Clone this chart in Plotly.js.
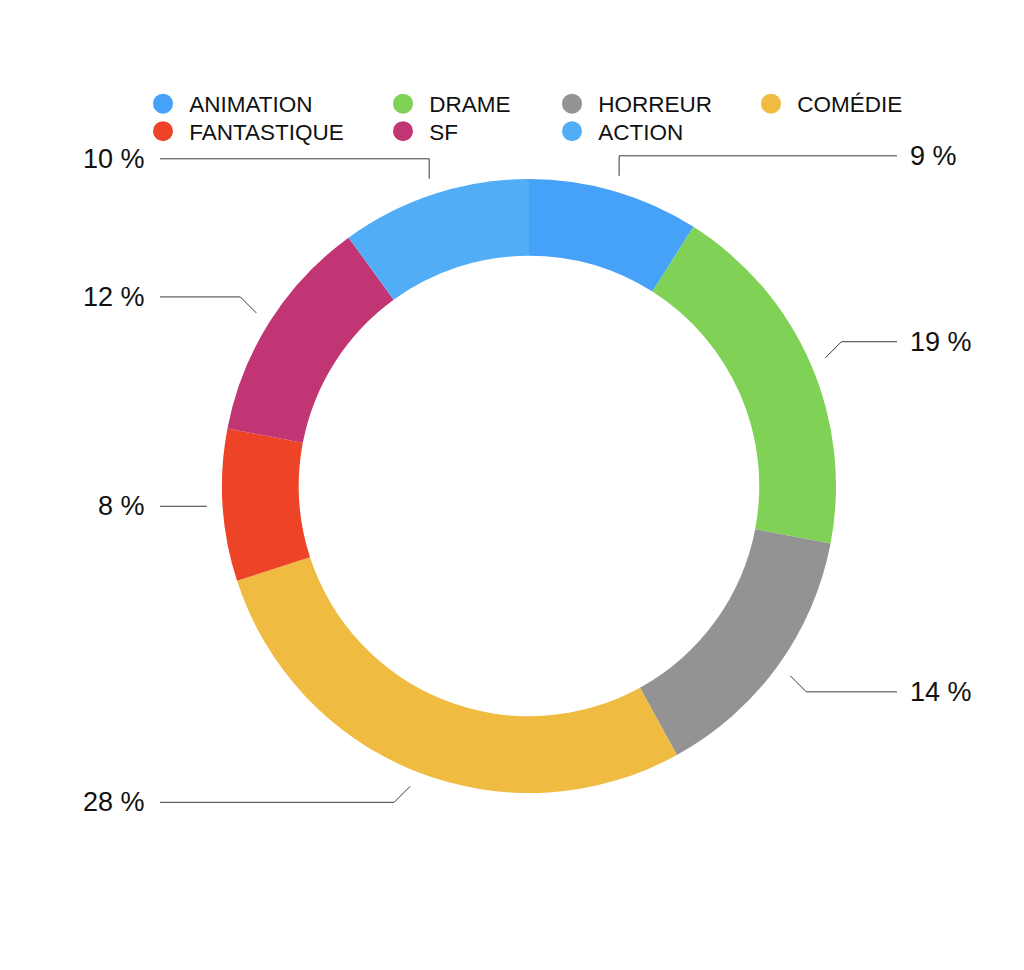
<!DOCTYPE html>
<html>
<head>
<meta charset="utf-8">
<script src="https://cdn.plot.ly/plotly-3.0.1.min.js"></script>
<style>
    html, body { margin: 0; padding: 0; background: #fff; }
    #chart { width: 1024px; height: 970px; }
</style>
</head>
<body>
<div id="chart"></div>
<script>
// Répartition des genres (en %)
const genres = ['ANIMATION', 'DRAME', 'HORREUR', 'COMÉDIE', 'FANTASTIQUE', 'SF', 'ACTION'];
const parts = [9, 19, 14, 28, 8, 12, 10];
const couleurs = ['#46a2f8', '#80d256', '#939393', '#f0bb41', '#ed4327', '#c13575', '#52adf7'];
// legend is laid out in 4 columns, 2 rows
const colonnesLegende = [
    ['ANIMATION', 'FANTASTIQUE'],
    ['DRAME', 'SF'],
    ['HORREUR', 'ACTION'],
    ['COMÉDIE']
];

const W = 1024, H = 970;
const margin = { l: 222, r: 188, t: 179, b: 177, autoexpand: false };
const plotW = W - margin.l - margin.r;
const plotH = H - margin.t - margin.b;
const R = Math.min(plotW, plotH) / 2;
const cx = margin.l + plotW / 2;
const cy = margin.t + plotH / 2;
const font = '"Liberation Sans", Arial, Helvetica, sans-serif';

// pixel -> paper
const px = x => (x - margin.l) / plotW;
const py = y => (H - margin.b - y) / plotH;

const total = parts.reduce((a, b) => a + b, 0);

// leader lines + outside percentage labels, placed from each slice's mid angle
const shapes = [];
const annotations = [];
let cum = 0;
parts.forEach((v, i) => {
    const mid = (cum + v / 2) / total * 2 * Math.PI;
    cum += v;
    const dx = Math.sin(mid), dy = -Math.cos(mid);
    const x0 = cx + (R + 16) * dx, y0 = cy + (R + 16) * dy;
    const sx = Math.abs(dx) > 0.35 ? Math.sign(dx) : 0;
    const sy = Math.abs(dy) > 0.35 ? Math.sign(dy) : 0;
    let x1, y1;
    if (sx === 0) { x1 = x0; y1 = y0 + 20 * sy; }
    else { x1 = x0 + 16 * sx; y1 = y0 + 16 * sy; }
    const right = dx > 0;
    const x2 = right ? 897 : 160;
    shapes.push({
        type: 'path', xref: 'paper', yref: 'paper',
        path: `M ${px(x0)},${py(y0)} L ${px(x1)},${py(y1)} L ${px(x2)},${py(y1)}`,
        line: { color: '#3a3a3a', width: 1 }
    });
    annotations.push({
        xref: 'paper', yref: 'paper',
        x: px(right ? 908 : 147), y: py(y1),
        xanchor: right ? 'left' : 'right', yanchor: 'middle',
        text: Math.round(v / total * 100) + ' %',
        showarrow: false,
        font: { family: font, size: 27, color: '#111' }
    });
});

const donut = {
    type: 'pie',
    values: parts,
    labels: genres,
    hole: 0.75,
    sort: false,
    direction: 'clockwise',
    rotation: 0,
    textinfo: 'none',
    hoverinfo: 'label+percent',
    marker: { colors: couleurs, line: { width: 0 } },
    showlegend: false
};

// legend entries with round symbols, one small legend per entry so the
// columns and rows line up like the original
const colX = [163, 403, 572, 771];
const rowY = [104, 131.5];
const legendTraces = [];
const legendLayout = {};
let n = 0;
colonnesLegende.forEach((col, k) => {
    col.forEach((name, r) => {
        n += 1;
        const key = n === 1 ? 'legend' : 'legend' + n;
        const c = couleurs[genres.indexOf(name)];
        legendTraces.push({
            type: 'scatter', mode: 'markers',
            x: [null], y: [null],
            name: '\u00a0' + name,
            legend: key,
            marker: { size: 16, color: c, line: { width: 4, color: c } },
            hoverinfo: 'skip'
        });
        legendLayout[key] = {
            x: px(colX[k] - 20), y: py(rowY[r]),
            xanchor: 'left', yanchor: 'middle',
            orientation: 'v',
            bgcolor: 'rgba(0,0,0,0)',
            borderwidth: 0,
            font: { family: font, size: 22.5, color: '#111' }
        };
    });
});

const layout = Object.assign({
    width: W,
    height: H,
    margin: margin,
    paper_bgcolor: '#fff',
    plot_bgcolor: '#fff',
    showlegend: true,
    xaxis: { visible: false },
    yaxis: { visible: false },
    shapes: shapes,
    annotations: annotations
}, legendLayout);

Plotly.newPlot('chart', [donut].concat(legendTraces), layout, { displayModeBar: false, responsive: false });
</script>
</body>
</html>
